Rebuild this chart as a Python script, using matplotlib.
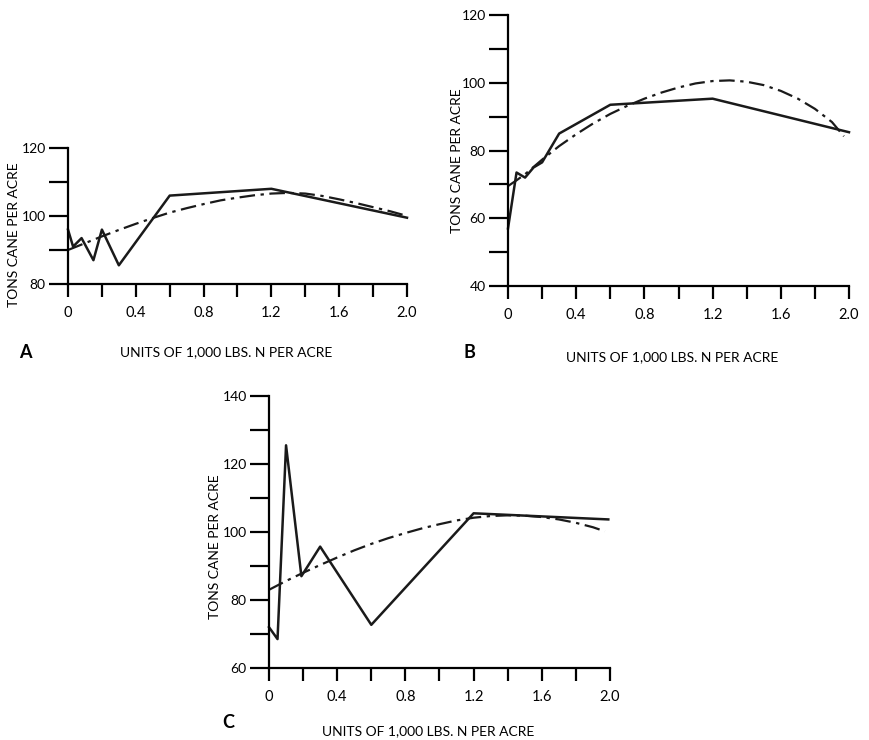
import matplotlib.pyplot as plt
import numpy as np

plt.rcParams['font.family'] = ['Lato', 'DejaVu Sans']

# Panel A
a_x = [0, 0.03, 0.08, 0.15, 0.2, 0.3, 0.6, 1.2, 2.0]
a_y = [96, 91, 93.5, 87, 96, 85.5, 106, 108, 99.5]
a_fit_x = [0, 0.1, 0.2, 0.3, 0.4, 0.5, 0.6, 0.7, 0.8, 0.9, 1.0,
           1.1, 1.2, 1.3, 1.4, 1.5, 1.6, 1.7, 1.8, 1.9, 1.98]
a_fit_y = [90, 92, 94, 95.9, 97.7, 99.4, 101, 102.3, 103.5, 104.6, 105.4,
           106.1, 106.6, 106.8, 106.6, 105.9, 104.9, 103.8, 102.6, 101.4, 100.3]

# Panel B
b_x = [0, 0.05, 0.1, 0.15, 0.2, 0.3, 0.6, 1.2, 2.0]
b_y = [57, 73.5, 72, 75, 76.5, 85, 93.5, 95.3, 85.4]
b_fit_x = [0, 0.05, 0.1, 0.2, 0.3, 0.4, 0.5, 0.6, 0.7, 0.8, 0.9, 1.0,
           1.1, 1.2, 1.3, 1.4, 1.5, 1.6, 1.7, 1.8, 1.9, 1.97]
b_fit_y = [69.5, 71.2, 73, 77.3, 81.3, 84.8, 88, 90.8, 93.2, 95.3, 97.1, 98.6,
           99.8, 100.5, 100.7, 100.3, 99.3, 97.6, 95.3, 92.3, 88.4, 84.2]

# Panel C
c_x = [0, 0.05, 0.1, 0.19, 0.3, 0.6, 1.2, 1.99]
c_y = [72, 68.5, 125.5, 87, 95.7, 72.7, 105.5, 103.7]
c_fit_x = [0, 0.1, 0.2, 0.3, 0.4, 0.5, 0.6, 0.7, 0.8, 0.9, 1.0,
           1.1, 1.2, 1.3, 1.4, 1.5, 1.6, 1.7, 1.8, 1.9, 1.97]
c_fit_y = [83, 85.6, 88, 90.3, 92.5, 94.6, 96.5, 98.2, 99.7, 101.1, 102.3,
           103.4, 104.2, 104.7, 104.9, 104.8, 104.4, 103.7, 102.7, 101.4, 100.2]

x_major = [0, 0.4, 0.8, 1.2, 1.6, 2.0]
x_labels = ['0', '0.4', '0.8', '1.2', '1.6', '2.0']
x_minor = [0.2, 0.6, 1.0, 1.4, 1.8]

W, H = 870, 740
fig = plt.figure(figsize=(8.7, 7.4), dpi=100)


def px_axes(x0, x1, ytop, ybot):
    return fig.add_axes([x0 / W, 1 - ybot / H, (x1 - x0) / W, (ybot - ytop) / H])


def style(ax, ymin, ymax, step):
    ax.set_xlim(0, 2.0)
    ax.set_ylim(ymin, ymax)
    for s in ['top', 'right']:
        ax.spines[s].set_visible(False)
    for s in ['left', 'bottom']:
        ax.spines[s].set_linewidth(1.6)
    ax.set_xticks(x_major)
    ax.set_xticklabels(x_labels)
    ax.set_xticks(x_minor, minor=True)
    ax.set_yticks(np.arange(ymin, ymax + 1, 2 * step))
    ax.set_yticks(np.arange(ymin + step, ymax, 2 * step), minor=True)
    ax.tick_params(axis='x', which='both', direction='out', length=9, width=1.6, pad=7, labelsize=10.5)
    ax.tick_params(axis='y', which='both', direction='out', length=14, width=1.6, pad=2, labelsize=10)


def draw(ax, x, y, fx, fy):
    ax.plot(x, y, color='#1a1a1a', lw=1.8, clip_on=False)
    ax.plot(fx, fy, color='#1a1a1a', lw=1.6, linestyle=(0, (7, 2.5, 1.5, 2.5)), clip_on=False)


axA = px_axes(68, 407, 148, 284)
style(axA, 80, 120, 10)
draw(axA, a_x, a_y, a_fit_x, a_fit_y)

axB = px_axes(508, 849, 15, 286)
style(axB, 40, 120, 10)
draw(axB, b_x, b_y, b_fit_x, b_fit_y)

axC = px_axes(269, 610, 396, 668)
style(axC, 60, 140, 10)
draw(axC, c_x, c_y, c_fit_x, c_fit_y)

ylab = 'TONS CANE PER ACRE'
xlab = 'UNITS OF 1,000 LBS. N PER ACRE'
for (yx, yy), (xx, xy), (lx, ly, letter) in [
        ((14, 235), (226, 352), (25, 352, 'A')),
        ((457, 161), (672, 357), (469, 352, 'B')),
        ((215, 547), (428, 731), (228, 723, 'C'))]:
    fig.text(yx / W, 1 - yy / H, ylab, rotation=90, ha='center', va='center', fontsize=10)
    fig.text(xx / W, 1 - xy / H, xlab, ha='center', va='center', fontsize=10)
    fig.text(lx / W, 1 - ly / H, letter, ha='center', va='center', fontsize=13, fontweight='bold')

fig.savefig('out.png', dpi=100, facecolor='white')
